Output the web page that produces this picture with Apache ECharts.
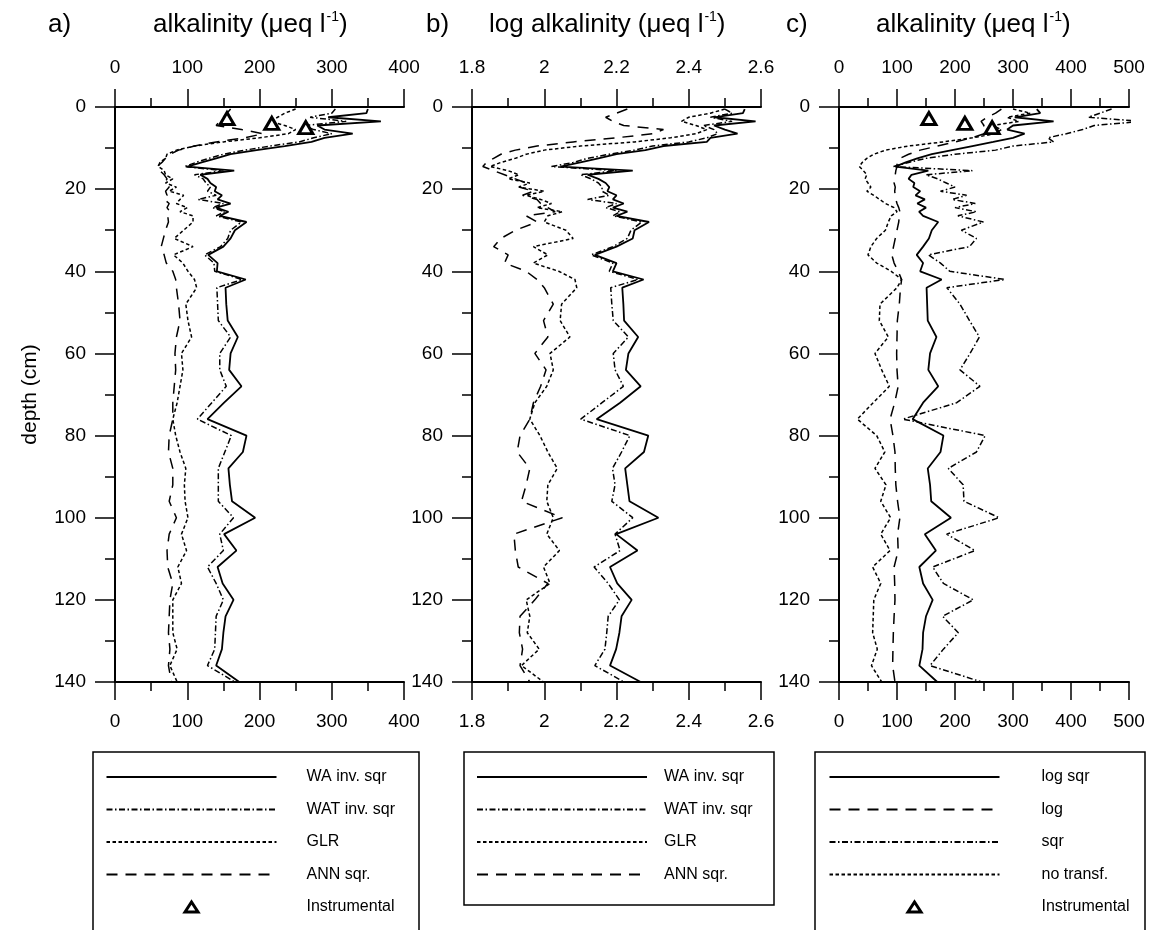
<!DOCTYPE html>
<html><head><meta charset="utf-8">
<script src="https://cdn.jsdelivr.net/npm/echarts@6/dist/echarts.min.js"></script>
<style>html,body{margin:0;padding:0;background:#fff}#c{width:1155px;height:930px}</style>
</head><body><div id="c"></div>
<script>
// depth (cm) of each sample
const depths = [0.5,1.5,2.5,3.5,4.5,5.5,6.5,7.5,8.5,9.5,10.5,11.5,12.5,13.5,14.5,15.5,16.5,17.5,18.5,19.5,20.5,21.5,22.5,23.5,24.5,25.5,26.5,
  28,30,32,34,36,38,40,42,44,
  48,52,56,60,64,68,72,76,80,84,88,92,96,100,104,108,112,116,120,124,128,132,136,140];

// panel a) alkalinity (µeq/l)
const aWA = [350,348,295,368,280,290,329,290,272,235,196,160,140,120,100,165,118,128,132,140,138,148,142,160,140,157,145,
  182,166,160,150,129,142,141,181,153,
  154,156,170,160,158,175,151,128,182,177,157,159,162,194,151,168,142,149,164,153,150,148,140,172];
const aWAT = [305,300,270,320,262,275,300,275,255,215,180,150,130,112,96,150,110,122,126,132,128,140,115,150,135,152,140,
  175,160,156,146,124,137,138,176,141,
  142,143,160,145,145,154,134,114,161,152,143,143,143,164,145,150,128,140,150,140,139,138,128,166];
const aGLR = [250,235,225,215,235,250,240,200,150,110,85,72,70,62,60,68,70,80,70,85,75,95,90,85,100,90,108,
  108,95,82,108,81,94,101,110,113,
  98,101,106,92,94,90,86,80,84,90,98,96,97,101,92,99,87,92,80,80,80,86,76,86];
const aANN = [160,155,150,145,140,175,205,180,140,110,88,76,70,65,58,62,68,72,69,75,70,72,68,75,72,76,73,
  74,70,67,64,68,71,80,84,85,
  88,90,85,83,84,82,80,80,75,74,80,80,75,85,75,72,73,80,76,75,74,76,74,78];

// panel b) log alkalinity
const bWA = [2.555,2.55,2.47,2.585,2.47,2.50,2.535,2.46,2.45,2.33,2.28,2.20,2.15,2.10,2.045,2.245,2.12,2.15,2.17,2.18,2.175,2.2,2.19,2.22,2.19,2.23,2.2,
  2.29,2.25,2.245,2.2,2.14,2.2,2.19,2.275,2.216,
  2.219,2.221,2.26,2.233,2.226,2.267,2.21,2.145,2.288,2.276,2.224,2.23,2.236,2.316,2.199,2.258,2.182,2.202,2.242,2.214,2.208,2.199,2.182,2.267];
const bWAT = [2.50,2.52,2.46,2.52,2.44,2.47,2.48,2.45,2.40,2.30,2.25,2.18,2.12,2.08,2.02,2.20,2.10,2.13,2.15,2.16,2.16,2.18,2.12,2.2,2.17,2.21,2.19,
  2.27,2.24,2.23,2.19,2.13,2.19,2.18,2.26,2.184,
  2.187,2.191,2.233,2.191,2.196,2.219,2.16,2.101,2.237,2.214,2.189,2.196,2.187,2.245,2.196,2.21,2.138,2.177,2.208,2.177,2.173,2.168,2.14,2.221];
const bGLR = [2.50,2.46,2.40,2.38,2.42,2.45,2.42,2.35,2.25,2.10,2.0,1.95,1.92,1.88,1.85,1.9,1.93,1.90,1.96,1.93,2.0,1.95,1.99,2.02,1.98,2.05,2.01,
  2.0,2.06,2.08,1.97,2.01,1.97,2.04,2.085,2.09,
  2.048,2.044,2.071,2.016,2.025,2.007,1.974,1.96,1.988,2.01,2.036,2.01,2.007,2.025,2.007,2.042,1.998,2.016,1.95,1.96,1.953,1.986,1.937,1.998];
const bANN = [2.23,2.20,2.17,2.19,2.22,2.33,2.30,2.2,2.08,1.98,1.92,1.88,1.86,1.84,1.83,1.86,1.89,1.92,1.95,1.93,1.97,1.94,1.98,1.99,2.01,2.03,1.95,
  1.98,1.92,1.88,1.86,1.9,1.89,1.95,1.98,2.0,
  2.025,1.998,2.01,1.974,2.005,1.99,1.97,1.96,1.933,1.925,1.96,1.95,1.937,2.05,1.916,1.92,1.928,2.01,1.974,1.933,1.931,1.94,1.933,1.96];

// panel c) alkalinity, transformations
const cLogSqr = [341,347,303,370,300,290,320,300,266,230,195,160,135,115,97,154,125,120,130,128,140,132,148,135,150,138,145,
  171,160,155,145,134,145,140,177,151,
  152,153,168,157,154,171,145,127,180,175,153,157,159,193,148,167,138.5,145,161.5,150,145,144,138.5,169.5];
const cLog = [280,270,255,245,250,245,250,230,200,170,140,120,105,100,100,98,97,96,95,97,96,97,98,100,103,105,104,
  103,100,97,94,91,95,102,108,106,
  104,100.6,100,99.4,100,102,96,88,93,96.5,97,98,101,105,101,102,95,96,96.5,95,93.7,93,92.5,96.5];
const cSqr = [470,450,430,522,440,420,392,360,370,300,270,200,150,120,94,230,150,170,185,200,175,220,195,235,200,237,205,
  249,211,237,225,154,175,191,286,186,
  208.6,225,242,226,208.6,243,203,110,252,237,188.5,214,215.5,276,185.6,234.5,161.5,180,231.6,178.7,205.7,180,157,246];
const cNoTransf = [300,330,290,310,265,280,270,230,180,120,80,60,48,40,35,42,48,45,50,55,48,60,70,80,95,100,90,
  85,80,65,55,50,65,90,108,100,
  70.7,69.5,85,62,73.6,86.8,59,31.6,65,79,62,81,72,89,72,88,58,72,60,59,58,66,56,73.6];

// instrumental measurements
const instrVals = [155, 217, 264];
const instrDepths = [2.8, 4.0, 5.0];

const F = "'Liberation Sans', Arial, Helvetica, sans-serif";
const BLACK = '#000';
const DASHDOT = [6, 2.5, 1.5, 2.5];
const SHORT = [3.5, 2.5];
const LONG = [11, 8];

function xAxisCfg(grid, pos, min, max, interval) {
  return {
    type: 'value', gridIndex: grid, position: pos, min: min, max: max, interval: interval,
    axisLine: { show: true, onZero: false, lineStyle: { color: BLACK, width: 2 } },
    axisTick: { show: true, length: 18, lineStyle: { color: BLACK, width: 1.5 } },
    minorTick: { show: true, splitNumber: 2, length: 9, lineStyle: { color: BLACK, width: 1.5 } },
    splitLine: { show: false }, minorSplitLine: { show: false },
    axisLabel: { margin: 30, fontSize: 19, color: BLACK, fontFamily: F }
  };
}
function yAxisCfg(grid, name) {
  const c = {
    type: 'value', gridIndex: grid, inverse: true, min: 0, max: 140, interval: 20,
    axisLine: { show: true, onZero: false, lineStyle: { color: BLACK, width: 2 } },
    axisTick: { show: true, length: 20, lineStyle: { color: BLACK, width: 1.5 } },
    minorTick: { show: true, splitNumber: 2, length: 10, lineStyle: { color: BLACK, width: 1.5 } },
    splitLine: { show: false }, minorSplitLine: { show: false },
    axisLabel: { margin: 29, fontSize: 19, color: BLACK, fontFamily: F }
  };
  if (name) {
    c.name = name; c.nameLocation = 'middle'; c.nameGap = 74;
    c.nameTextStyle = { fontSize: 21, color: BLACK, fontFamily: F };
  }
  return c;
}
function lineSeries(name, xi, yi, vals, dash, width) {
  return {
    type: 'line', name: name, xAxisIndex: xi, yAxisIndex: yi,
    data: depths.map((d, i) => [vals[i], d]),
    symbol: 'none', showSymbol: false, clip: false, animation: false,
    lineStyle: { color: BLACK, width: width || 1.5, type: dash },
    itemStyle: { color: BLACK },
    emphasis: { disabled: true }
  };
}
function instrSeries(xi, yi) {
  return {
    type: 'scatter', name: 'Instrumental', xAxisIndex: xi, yAxisIndex: yi,
    data: instrVals.map((v, i) => [v, instrDepths[i]]),
    symbol: 'triangle', symbolSize: [14, 12], z: 5,
    itemStyle: { color: '#fff', borderColor: BLACK, borderWidth: 3, opacity: 1 },
    emphasis: { disabled: true }
  };
}
function titleRich() {
  return {
    t: { fontSize: 26, color: BLACK, fontFamily: F, fontWeight: 'normal', lineHeight: 30 },
    s: { fontSize: 14, color: BLACK, fontFamily: F, fontWeight: 'normal', verticalAlign: 'top', lineHeight: 30, padding: [0, 0, 0, 1] }
  };
}
function lineItem(n) { return { name: n, itemStyle: { opacity: 0 } }; }
// legend icon: small triangle centred in a 170x12 box (move-to points fix the box)
const triItem = {
  name: 'Instrumental',
  icon: 'path://M0,0M170,12M78.5,11L85,1L91.5,11Z',
  itemStyle: { color: '#fff', borderColor: BLACK, borderWidth: 3, opacity: 1 }
};
function legendCfg(left, textPad, items) {
  return {
    orient: 'vertical', left: left, top: 769, padding: 0, height: 300,
    itemWidth: 170, itemHeight: 12, itemGap: 16.5, selectedMode: false,
    data: items,
    textStyle: { fontSize: 16, color: BLACK, fontFamily: F, padding: [0, 0, 0, textPad] }
  };
}
const headStyle = { fontSize: 26, fontWeight: 'normal', color: BLACK, fontFamily: F, lineHeight: 30 };

const chart = echarts.init(document.getElementById('c'), null, { renderer: 'canvas' });
chart.setOption({
  backgroundColor: '#fff',
  animation: false,
  title: [
    { text: 'a)', left: 48, top: 10, padding: 0, textStyle: headStyle },
    { text: '{t|alkalinity (μeq l}{s|-1}{t|)}', left: 153, top: 10, padding: 0, textStyle: { rich: titleRich() } },
    { text: 'b)', left: 426, top: 10, padding: 0, textStyle: headStyle },
    { text: '{t|log alkalinity (μeq l}{s|-1}{t|)}', left: 489, top: 10, padding: 0, textStyle: { rich: titleRich() } },
    { text: 'c)', left: 786, top: 10, padding: 0, textStyle: headStyle },
    { text: '{t|alkalinity (μeq l}{s|-1}{t|)}', left: 876, top: 10, padding: 0, textStyle: { rich: titleRich() } }
  ],
  grid: [
    { left: 115, top: 107, width: 289, height: 575, containLabel: false },
    { left: 472, top: 107, width: 289, height: 575, containLabel: false },
    { left: 839, top: 107, width: 290, height: 575, containLabel: false }
  ],
  xAxis: [
    xAxisCfg(0, 'top', 0, 400, 100), xAxisCfg(0, 'bottom', 0, 400, 100),
    xAxisCfg(1, 'top', 1.8, 2.6, 0.2), xAxisCfg(1, 'bottom', 1.8, 2.6, 0.2),
    xAxisCfg(2, 'top', 0, 500, 100), xAxisCfg(2, 'bottom', 0, 500, 100)
  ],
  yAxis: [yAxisCfg(0, 'depth (cm)'), yAxisCfg(1), yAxisCfg(2)],
  legend: [
    legendCfg(105, 25, [lineItem('WA inv. sqr'), lineItem('WAT inv. sqr'), lineItem('GLR'), lineItem('ANN sqr.'), triItem]),
    legendCfg(476, 12, [lineItem('WA inv. sqr'), lineItem('WAT inv. sqr'), lineItem('GLR'), lineItem('ANN sqr.')]),
    legendCfg(828, 37, [lineItem('log sqr'), lineItem('log'), lineItem('sqr'), lineItem('no transf.'), triItem])
  ],
  graphic: [
    { type: 'rect', shape: { x: 93, y: 752, width: 326, height: 200 }, style: { fill: 'none', stroke: BLACK, lineWidth: 1.5 }, silent: true },
    { type: 'rect', shape: { x: 464, y: 752, width: 310, height: 153 }, style: { fill: 'none', stroke: BLACK, lineWidth: 1.5 }, silent: true },
    { type: 'rect', shape: { x: 815, y: 752, width: 330, height: 200 }, style: { fill: 'none', stroke: BLACK, lineWidth: 1.5 }, silent: true }
  ],
  series: [
    lineSeries('ANN sqr.', 1, 0, aANN, LONG, 1.5),
    lineSeries('GLR', 1, 0, aGLR, SHORT, 1.5),
    lineSeries('WAT inv. sqr', 1, 0, aWAT, DASHDOT, 1.5),
    lineSeries('WA inv. sqr', 1, 0, aWA, 'solid', 1.8),
    instrSeries(1, 0),
    lineSeries('ANN sqr.', 3, 1, bANN, LONG, 1.5),
    lineSeries('GLR', 3, 1, bGLR, SHORT, 1.5),
    lineSeries('WAT inv. sqr', 3, 1, bWAT, DASHDOT, 1.5),
    lineSeries('WA inv. sqr', 3, 1, bWA, 'solid', 1.8),
    lineSeries('no transf.', 5, 2, cNoTransf, SHORT, 1.5),
    lineSeries('sqr', 5, 2, cSqr, DASHDOT, 1.5),
    lineSeries('log', 5, 2, cLog, LONG, 1.5),
    lineSeries('log sqr', 5, 2, cLogSqr, 'solid', 1.8),
    instrSeries(5, 2)
  ]
});
</script></body></html>
